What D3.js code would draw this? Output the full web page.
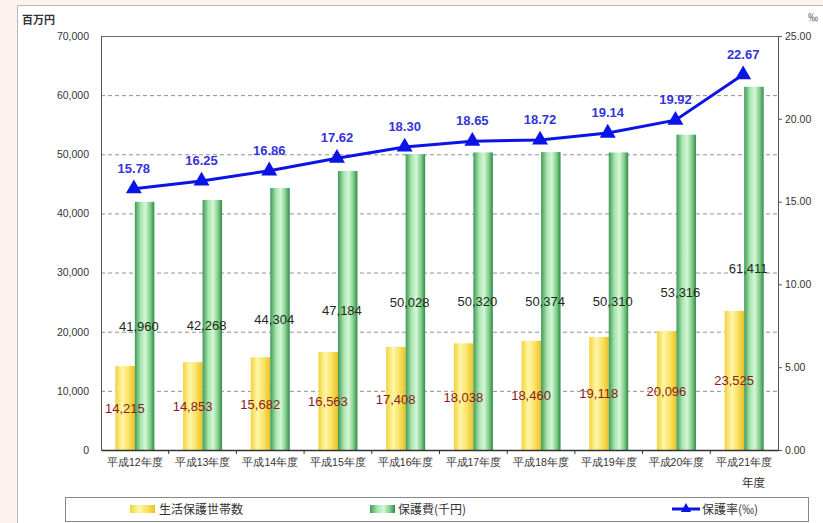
<!DOCTYPE html>
<html><head><meta charset="utf-8">
<script src="https://cdn.jsdelivr.net/npm/d3@7"></script>
<style>
html,body{margin:0;padding:0;background:#fdf3ee;}
svg{display:block;font-family:"Noto Sans CJK JP","Noto Sans",sans-serif;}
</style></head><body>
<svg id="c" width="823" height="523"></svg>
<script>
const categories = ["平成12年度","平成13年度","平成14年度","平成15年度","平成16年度","平成17年度","平成18年度","平成19年度","平成20年度","平成21年度"];
const households = [14215,14853,15682,16563,17408,18038,18460,19118,20096,23525];
const expenses = [41960,42268,44304,47184,50028,50320,50374,50310,53316,61411];
const rates = [15.78,16.25,16.86,17.62,18.30,18.65,18.72,19.14,19.92,22.67];
const leftTicks = [0,10000,20000,30000,40000,50000,60000,70000];
const rightTicks = [0,5,10,15,20,25];
const seriesNames = ["生活保護世帯数","保護費(千円)","保護率(‰)"];

const svg = d3.select("#c");
// frame
svg.append("rect").attr("x",0).attr("y",0).attr("width",823).attr("height",523).attr("fill","#fdf3ee");
svg.append("rect").attr("x",17.5).attr("y",5.5).attr("width",820).attr("height",530).attr("fill","#fff").attr("stroke","#b8b8b8");

const L=101, R=778, T=36, B=450;
const x = d3.scaleBand().domain(categories).range([L,R]);
const yL = d3.scaleLinear().domain([0,70000]).range([B,T]);
const yR = d3.scaleLinear().domain([0,25]).range([B,T]);

const defs = svg.append("defs");
const gy = defs.append("linearGradient").attr("id","gy").attr("x1","0").attr("x2","1").attr("y1","0").attr("y2","0");
[["0%","#f2d23a"],["35%","#fff6a8"],["65%","#fbe46a"],["100%","#e8c225"]].forEach(s=>gy.append("stop").attr("offset",s[0]).attr("stop-color",s[1]));
const gg = defs.append("linearGradient").attr("id","gg").attr("x1","0").attr("x2","1").attr("y1","0").attr("y2","0");
[["0%","#3f9a55"],["30%","#a9e6b0"],["55%","#d4f7d4"],["80%","#7fcc8a"],["100%","#2f8a47"]].forEach(s=>gg.append("stop").attr("offset",s[0]).attr("stop-color",s[1]));

// gridlines
svg.append("g").selectAll("line").data(leftTicks.slice(1,-1)).join("line")
  .attr("x1",L).attr("x2",R).attr("y1",d=>yL(d)+0.5).attr("y2",d=>yL(d)+0.5)
  .attr("stroke","#909090").attr("stroke-dasharray","4,3").attr("stroke-width",1);

// top border
svg.append("line").attr("x1",L).attr("x2",R).attr("y1",T+0.5).attr("y2",T+0.5).attr("stroke","#666");

const bw = x.bandwidth();
const barW = 19.5;
// bars
svg.append("g").selectAll("rect").data(households).join("rect")
  .attr("x",(d,i)=>x(categories[i])+bw/2-barW).attr("width",barW)
  .attr("y",d=>yL(d)).attr("height",d=>B-yL(d)).attr("fill","url(#gy)");
svg.append("g").selectAll("rect").data(expenses).join("rect")
  .attr("x",(d,i)=>x(categories[i])+bw/2).attr("width",barW)
  .attr("y",d=>yL(d)).attr("height",d=>B-yL(d)).attr("fill","url(#gg)");

// axes
const axL = d3.axisLeft(yL).tickValues(leftTicks).tickSize(0).tickPadding(12).tickFormat(d3.format(","));
const gL = svg.append("g").attr("transform",`translate(${L},0)`).call(axL);
gL.select(".domain").attr("stroke","#555");
gL.selectAll("text").attr("font-size",10.5).attr("fill","#333").attr("font-family","Liberation Sans, Arial, sans-serif");

const axR = d3.axisRight(yR).tickValues(rightTicks).tickSize(4).tickPadding(3).tickFormat(d3.format(".2f"));
const gR = svg.append("g").attr("transform",`translate(${R},0)`).call(axR);
gR.select(".domain").attr("stroke","#555");
gR.selectAll("line").attr("stroke","#555");
gR.selectAll("text").attr("font-size",10.5).attr("fill","#333").attr("font-family","Liberation Sans, Arial, sans-serif");

const axB = d3.axisBottom(x).tickSize(0).tickPadding(9);
const gB = svg.append("g").attr("transform",`translate(0,${B})`).call(axB);
gB.select(".domain").attr("stroke","#333").attr("stroke-width",1.5);
gB.selectAll("text").attr("font-size",10.5).attr("fill","#333");
// boundary ticks
svg.append("g").selectAll("line").data(categories.slice(1)).join("line")
  .attr("x1",d=>x(d)).attr("x2",d=>x(d)).attr("y1",B).attr("y2",B+4).attr("stroke","#333");

// line
const cx = i=>x(categories[i])+bw/2-1;
svg.append("path").datum(rates)
  .attr("d",d3.line().x((d,i)=>cx(i)).y(d=>yR(d)))
  .attr("fill","none").attr("stroke","#0a14e6").attr("stroke-width",3);
const tri = d3.symbol().type(d3.symbolTriangle).size(110);
svg.append("g").selectAll("path").data(rates).join("path")
  .attr("d",tri).attr("transform",(d,i)=>`translate(${cx(i)},${yR(d)})`).attr("fill","#0a14e6");

// labels
const lf = "Liberation Sans, Arial, sans-serif";
svg.append("g").selectAll("text").data(rates).join("text")
  .attr("x",(d,i)=>cx(i)).attr("y",d=>yR(d)-16).attr("text-anchor","middle")
  .attr("font-size",13).attr("font-weight","bold").attr("fill","#3434d8").attr("font-family",lf)
  .text(d=>d.toFixed(2));
svg.append("g").selectAll("text").data(expenses).join("text")
  .attr("x",(d,i)=>x(categories[i])+bw/2+4).attr("y",d=>yL(d/2)+5).attr("text-anchor","middle")
  .attr("font-size",13).attr("fill","#1c2a1c").attr("font-family",lf)
  .text(d=>d3.format(",")(d));
svg.append("g").selectAll("text").data(households).join("text")
  .attr("x",(d,i)=>x(categories[i])+bw/2-10).attr("y",d=>yL(d/2)+5).attr("text-anchor","middle")
  .attr("font-size",13).attr("fill","#8a1c24").attr("font-family",lf)
  .text(d=>d3.format(",")(d));

// unit labels
svg.append("text").attr("x",22).attr("y",24).attr("font-size",11).attr("font-weight","bold").attr("fill","#333").text("百万円");
svg.append("text").attr("x",808).attr("y",21).attr("font-size",10).attr("fill","#444").text("‰");
svg.append("text").attr("x",742).attr("y",487).attr("font-size",11.5).attr("fill","#333").text("年度");

// legend
svg.append("rect").attr("x",65.5).attr("y",497.5).attr("width",743).attr("height",24).attr("fill","#fff").attr("stroke","#888");
const lg = svg.append("g");
lg.append("rect").attr("x",130).attr("y",505).attr("width",25).attr("height",8).attr("fill","url(#gy)");
lg.append("text").attr("x",159).attr("y",514).attr("font-size",12).attr("fill","#333").text(seriesNames[0]);
lg.append("rect").attr("x",370).attr("y",505).attr("width",25).attr("height",8).attr("fill","url(#gg)");
lg.append("text").attr("x",398).attr("y",514).attr("font-size",12).attr("fill","#333").text(seriesNames[1]);
lg.append("line").attr("x1",672).attr("x2",700).attr("y1",509).attr("y2",509).attr("stroke","#0a14e6").attr("stroke-width",3);
lg.append("path").attr("d",d3.symbol().type(d3.symbolTriangle).size(45)).attr("transform","translate(686,509)").attr("fill","#0a14e6");
lg.append("text").attr("x",702).attr("y",514).attr("font-size",12).attr("fill","#333").text(seriesNames[2]);
</script>
</body></html>
